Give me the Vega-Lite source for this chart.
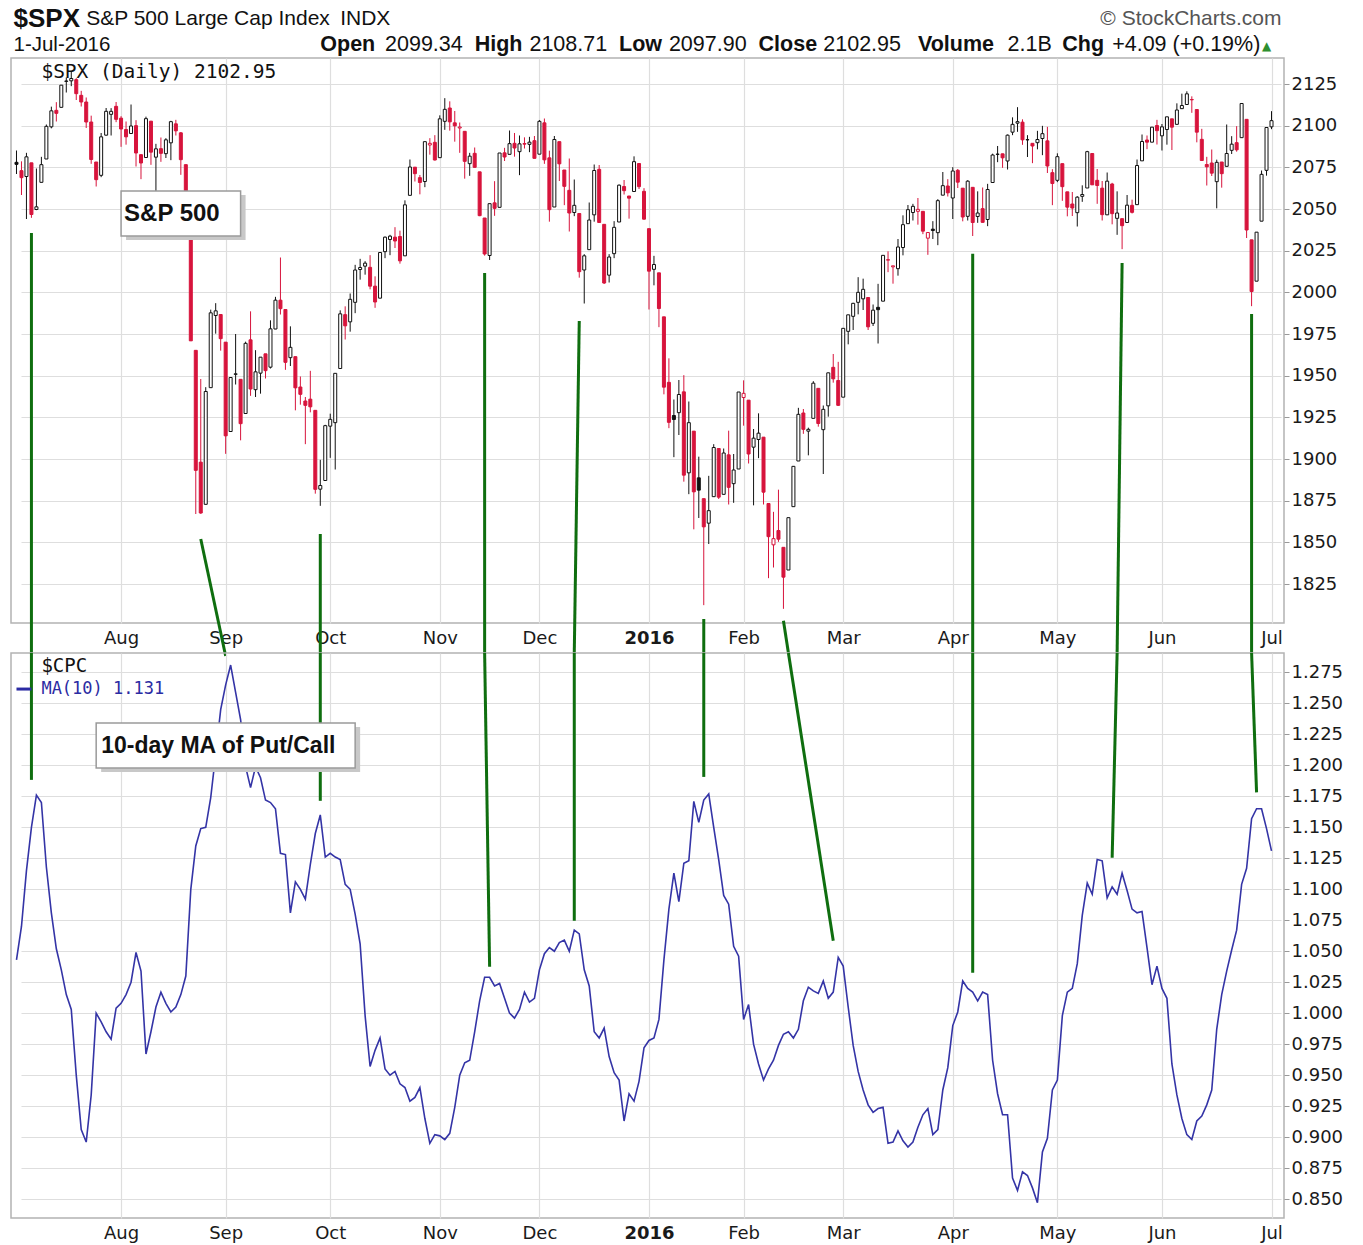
{
"$schema": "https://vega.github.io/schema/vega-lite/v6.json",
"padding": {"left": 10, "top": 5, "right": 0, "bottom": 0},
"background": "white",
"spacing": 30,
"bounds": "flush",
"datasets": {
"px": [
{"d":"2015-07-02","o":2078.0,"h":2085.1,"l":2071.0,"c":2076.8,"m":1.043},
{"d":"2015-07-06","o":2073.0,"h":2078.6,"l":2058.4,"c":2068.8,"m":1.070},
{"d":"2015-07-07","o":2069.5,"h":2083.7,"l":2044.0,"c":2081.3,"m":1.115},
{"d":"2015-07-08","o":2077.7,"h":2077.7,"l":2044.7,"c":2046.7,"m":1.150},
{"d":"2015-07-09","o":2049.7,"h":2074.3,"l":2049.3,"c":2051.3,"m":1.176},
{"d":"2015-07-10","o":2066.0,"h":2081.3,"l":2066.0,"c":2076.6,"m":1.170},
{"d":"2015-07-13","o":2080.0,"h":2100.7,"l":2080.0,"c":2099.6,"m":1.118},
{"d":"2015-07-14","o":2099.3,"h":2111.4,"l":2098.4,"c":2108.9,"m":1.081},
{"d":"2015-07-15","o":2109.2,"h":2114.1,"l":2102.5,"c":2107.4,"m":1.052},
{"d":"2015-07-16","o":2111.0,"h":2124.4,"l":2111.0,"c":2124.3,"m":1.035},
{"d":"2015-07-17","o":2126.8,"h":2128.9,"l":2119.9,"c":2126.6,"m":1.015},
{"d":"2015-07-20","o":2126.9,"h":2132.8,"l":2123.7,"c":2128.3,"m":1.003},
{"d":"2015-07-21","o":2127.6,"h":2128.5,"l":2115.4,"c":2119.2,"m":0.950},
{"d":"2015-07-22","o":2118.2,"h":2120.9,"l":2111.5,"c":2114.2,"m":0.906},
{"d":"2015-07-23","o":2114.2,"h":2116.9,"l":2098.6,"c":2102.2,"m":0.896},
{"d":"2015-07-24","o":2102.2,"h":2106.0,"l":2077.1,"c":2079.7,"m":0.934},
{"d":"2015-07-27","o":2078.2,"h":2078.2,"l":2063.5,"c":2067.6,"m":1.000},
{"d":"2015-07-28","o":2070.2,"h":2095.6,"l":2069.1,"c":2093.3,"m":0.993},
{"d":"2015-07-29","o":2094.3,"h":2110.6,"l":2094.1,"c":2108.6,"m":0.985},
{"d":"2015-07-30","o":2106.8,"h":2110.5,"l":2094.1,"c":2108.6,"m":0.979},
{"d":"2015-07-31","o":2111.6,"h":2114.2,"l":2102.1,"c":2103.8,"m":1.004},
{"d":"2015-08-03","o":2104.5,"h":2105.7,"l":2087.3,"c":2098.0,"m":1.008},
{"d":"2015-08-04","o":2097.7,"h":2102.5,"l":2088.6,"c":2093.3,"m":1.015},
{"d":"2015-08-05","o":2095.3,"h":2112.7,"l":2095.3,"c":2099.8,"m":1.025},
{"d":"2015-08-06","o":2100.0,"h":2103.3,"l":2075.5,"c":2083.6,"m":1.049},
{"d":"2015-08-07","o":2082.6,"h":2082.6,"l":2067.9,"c":2077.6,"m":1.034},
{"d":"2015-08-10","o":2080.9,"h":2105.4,"l":2080.9,"c":2104.2,"m":0.967},
{"d":"2015-08-11","o":2102.7,"h":2102.7,"l":2076.5,"c":2084.1,"m":0.985},
{"d":"2015-08-12","o":2081.1,"h":2089.1,"l":2052.1,"c":2086.1,"m":1.005},
{"d":"2015-08-13","o":2086.2,"h":2092.9,"l":2078.3,"c":2083.4,"m":1.017},
{"d":"2015-08-14","o":2083.2,"h":2092.5,"l":2080.6,"c":2091.5,"m":1.008},
{"d":"2015-08-17","o":2089.7,"h":2102.9,"l":2079.3,"c":2102.4,"m":1.001},
{"d":"2015-08-18","o":2101.1,"h":2103.5,"l":2094.1,"c":2096.9,"m":1.005},
{"d":"2015-08-19","o":2095.7,"h":2096.2,"l":2070.5,"c":2079.6,"m":1.015},
{"d":"2015-08-20","o":2076.6,"h":2076.6,"l":2035.7,"c":2035.7,"m":1.030},
{"d":"2015-08-21","o":2034.1,"h":2034.1,"l":1970.9,"c":1970.9,"m":1.100},
{"d":"2015-08-24","o":1965.2,"h":1965.2,"l":1867.0,"c":1893.2,"m":1.135},
{"d":"2015-08-25","o":1898.1,"h":1948.0,"l":1867.1,"c":1867.6,"m":1.149},
{"d":"2015-08-26","o":1872.8,"h":1943.1,"l":1872.8,"c":1940.5,"m":1.150},
{"d":"2015-08-27","o":1942.8,"h":1989.6,"l":1942.8,"c":1987.7,"m":1.174},
{"d":"2015-08-28","o":1986.1,"h":1993.5,"l":1975.2,"c":1988.9,"m":1.209},
{"d":"2015-08-31","o":1986.7,"h":1986.7,"l":1965.0,"c":1972.2,"m":1.245},
{"d":"2015-09-01","o":1970.1,"h":1970.1,"l":1903.1,"c":1913.9,"m":1.265},
{"d":"2015-09-02","o":1916.5,"h":1948.9,"l":1916.5,"c":1948.9,"m":1.281},
{"d":"2015-09-03","o":1950.8,"h":1975.0,"l":1944.7,"c":1951.1,"m":1.259},
{"d":"2015-09-04","o":1947.8,"h":1947.8,"l":1911.2,"c":1921.2,"m":1.237},
{"d":"2015-09-08","o":1927.3,"h":1970.4,"l":1927.3,"c":1969.4,"m":1.199},
{"d":"2015-09-09","o":1971.5,"h":1988.6,"l":1937.9,"c":1942.0,"m":1.182},
{"d":"2015-09-10","o":1941.6,"h":1965.3,"l":1937.2,"c":1952.3,"m":1.199},
{"d":"2015-09-11","o":1951.5,"h":1961.1,"l":1939.2,"c":1961.1,"m":1.190},
{"d":"2015-09-14","o":1963.1,"h":1963.1,"l":1948.3,"c":1953.0,"m":1.172},
{"d":"2015-09-15","o":1955.1,"h":1983.2,"l":1954.3,"c":1978.1,"m":1.170},
{"d":"2015-09-16","o":1978.0,"h":1997.3,"l":1977.9,"c":1995.3,"m":1.165},
{"d":"2015-09-17","o":1995.3,"h":2020.9,"l":1986.7,"c":1990.2,"m":1.129},
{"d":"2015-09-18","o":1989.7,"h":1989.7,"l":1953.5,"c":1958.0,"m":1.128},
{"d":"2015-09-21","o":1960.8,"h":1979.6,"l":1955.8,"c":1967.0,"m":1.081},
{"d":"2015-09-22","o":1961.4,"h":1961.4,"l":1929.2,"c":1942.7,"m":1.106},
{"d":"2015-09-23","o":1943.2,"h":1949.5,"l":1932.6,"c":1938.8,"m":1.100},
{"d":"2015-09-24","o":1934.8,"h":1937.2,"l":1908.9,"c":1932.2,"m":1.092},
{"d":"2015-09-25","o":1935.9,"h":1952.9,"l":1928.0,"c":1931.3,"m":1.120},
{"d":"2015-09-28","o":1929.2,"h":1929.2,"l":1879.2,"c":1881.8,"m":1.145},
{"d":"2015-09-29","o":1881.9,"h":1899.5,"l":1871.9,"c":1884.1,"m":1.160},
{"d":"2015-09-30","o":1887.1,"h":1920.5,"l":1887.1,"c":1920.0,"m":1.126},
{"d":"2015-10-01","o":1919.7,"h":1927.2,"l":1900.7,"c":1923.8,"m":1.129},
{"d":"2015-10-02","o":1921.8,"h":1951.4,"l":1893.7,"c":1951.4,"m":1.126},
{"d":"2015-10-05","o":1954.3,"h":1989.2,"l":1954.3,"c":1987.1,"m":1.124},
{"d":"2015-10-06","o":1986.6,"h":1991.6,"l":1971.7,"c":1979.9,"m":1.104},
{"d":"2015-10-07","o":1982.3,"h":1999.3,"l":1976.4,"c":1995.8,"m":1.100},
{"d":"2015-10-08","o":1994.0,"h":2016.5,"l":1987.5,"c":2013.4,"m":1.080},
{"d":"2015-10-09","o":2013.7,"h":2020.1,"l":2007.6,"c":2014.9,"m":1.056},
{"d":"2015-10-12","o":2015.7,"h":2018.7,"l":2010.6,"c":2017.5,"m":0.998},
{"d":"2015-10-13","o":2015.0,"h":2022.3,"l":2001.8,"c":2003.7,"m":0.957},
{"d":"2015-10-14","o":2003.7,"h":2009.6,"l":1990.7,"c":1994.2,"m":0.970},
{"d":"2015-10-15","o":1996.5,"h":2024.2,"l":1996.5,"c":2023.9,"m":0.980},
{"d":"2015-10-16","o":2024.4,"h":2033.5,"l":2020.5,"c":2033.1,"m":0.955},
{"d":"2015-10-19","o":2031.7,"h":2034.5,"l":2022.3,"c":2033.7,"m":0.950},
{"d":"2015-10-20","o":2033.1,"h":2039.1,"l":2026.6,"c":2030.8,"m":0.953},
{"d":"2015-10-21","o":2033.5,"h":2037.0,"l":2017.2,"c":2018.9,"m":0.943},
{"d":"2015-10-22","o":2021.9,"h":2055.2,"l":2021.9,"c":2052.5,"m":0.940},
{"d":"2015-10-23","o":2058.2,"h":2079.7,"l":2058.2,"c":2075.2,"m":0.929},
{"d":"2015-10-26","o":2075.1,"h":2075.1,"l":2066.5,"c":2071.2,"m":0.932},
{"d":"2015-10-27","o":2068.8,"h":2070.4,"l":2058.8,"c":2065.9,"m":0.940},
{"d":"2015-10-28","o":2066.5,"h":2090.4,"l":2063.1,"c":2090.4,"m":0.915},
{"d":"2015-10-29","o":2088.4,"h":2092.5,"l":2082.6,"c":2089.4,"m":0.895},
{"d":"2015-10-30","o":2090.0,"h":2094.3,"l":2079.1,"c":2079.4,"m":0.902},
{"d":"2015-11-02","o":2080.8,"h":2106.2,"l":2080.8,"c":2104.1,"m":0.901},
{"d":"2015-11-03","o":2102.6,"h":2116.5,"l":2097.5,"c":2109.8,"m":0.898},
{"d":"2015-11-04","o":2110.6,"h":2114.6,"l":2097.0,"c":2102.3,"m":0.903},
{"d":"2015-11-05","o":2101.7,"h":2108.8,"l":2090.4,"c":2099.9,"m":0.924},
{"d":"2015-11-06","o":2098.6,"h":2101.9,"l":2083.7,"c":2099.2,"m":0.950},
{"d":"2015-11-09","o":2096.6,"h":2096.6,"l":2068.2,"c":2078.6,"m":0.960},
{"d":"2015-11-10","o":2077.2,"h":2083.7,"l":2069.9,"c":2081.7,"m":0.962},
{"d":"2015-11-11","o":2083.4,"h":2086.9,"l":2074.9,"c":2075.0,"m":0.985},
{"d":"2015-11-12","o":2072.3,"h":2072.3,"l":2045.7,"c":2046.0,"m":1.010},
{"d":"2015-11-13","o":2044.6,"h":2044.6,"l":2022.0,"c":2023.0,"m":1.029},
{"d":"2015-11-16","o":2022.1,"h":2053.2,"l":2019.4,"c":2053.2,"m":1.029},
{"d":"2015-11-17","o":2053.7,"h":2066.7,"l":2045.9,"c":2050.4,"m":1.022},
{"d":"2015-11-18","o":2051.0,"h":2083.6,"l":2051.0,"c":2083.6,"m":1.024},
{"d":"2015-11-19","o":2083.7,"h":2086.7,"l":2078.8,"c":2081.2,"m":1.012},
{"d":"2015-11-20","o":2082.8,"h":2097.1,"l":2082.8,"c":2089.2,"m":1.000},
{"d":"2015-11-23","o":2089.4,"h":2095.6,"l":2081.4,"c":2086.6,"m":0.996},
{"d":"2015-11-24","o":2084.4,"h":2094.1,"l":2070.3,"c":2089.1,"m":1.003},
{"d":"2015-11-25","o":2089.3,"h":2093.0,"l":2086.3,"c":2088.9,"m":1.017},
{"d":"2015-11-27","o":2088.8,"h":2093.3,"l":2084.1,"c":2090.1,"m":1.009},
{"d":"2015-11-30","o":2091.0,"h":2093.8,"l":2080.4,"c":2080.4,"m":1.012},
{"d":"2015-12-01","o":2082.9,"h":2103.4,"l":2082.9,"c":2102.6,"m":1.035},
{"d":"2015-12-02","o":2101.7,"h":2104.3,"l":2077.1,"c":2079.5,"m":1.048},
{"d":"2015-12-03","o":2080.7,"h":2085.0,"l":2042.4,"c":2049.6,"m":1.053},
{"d":"2015-12-04","o":2051.2,"h":2093.8,"l":2051.2,"c":2091.7,"m":1.050},
{"d":"2015-12-07","o":2090.4,"h":2090.4,"l":2066.8,"c":2077.1,"m":1.057},
{"d":"2015-12-08","o":2073.4,"h":2073.4,"l":2052.3,"c":2063.6,"m":1.059},
{"d":"2015-12-09","o":2061.2,"h":2080.3,"l":2036.5,"c":2047.6,"m":1.050},
{"d":"2015-12-10","o":2047.9,"h":2067.7,"l":2045.7,"c":2052.2,"m":1.067},
{"d":"2015-12-11","o":2047.3,"h":2047.3,"l":2008.8,"c":2012.4,"m":1.064},
{"d":"2015-12-14","o":2013.4,"h":2022.9,"l":1993.3,"c":2021.9,"m":1.035},
{"d":"2015-12-15","o":2025.6,"h":2053.9,"l":2025.6,"c":2043.4,"m":1.022},
{"d":"2015-12-16","o":2046.5,"h":2076.7,"l":2042.4,"c":2073.1,"m":0.985},
{"d":"2015-12-17","o":2073.8,"h":2076.4,"l":2041.7,"c":2041.9,"m":0.980},
{"d":"2015-12-18","o":2040.8,"h":2040.8,"l":2005.0,"c":2005.6,"m":0.988},
{"d":"2015-12-21","o":2010.3,"h":2022.9,"l":2005.9,"c":2021.2,"m":0.965},
{"d":"2015-12-22","o":2023.2,"h":2042.7,"l":2020.5,"c":2039.0,"m":0.952},
{"d":"2015-12-23","o":2042.2,"h":2064.7,"l":2042.2,"c":2064.3,"m":0.946},
{"d":"2015-12-24","o":2063.5,"h":2067.4,"l":2058.7,"c":2061.0,"m":0.913},
{"d":"2015-12-28","o":2057.8,"h":2057.8,"l":2044.2,"c":2056.5,"m":0.935},
{"d":"2015-12-29","o":2060.5,"h":2081.6,"l":2060.5,"c":2078.4,"m":0.929},
{"d":"2015-12-30","o":2077.3,"h":2077.3,"l":2062.0,"c":2063.4,"m":0.945},
{"d":"2015-12-31","o":2060.6,"h":2062.5,"l":2043.6,"c":2043.9,"m":0.972},
{"d":"2016-01-04","o":2038.2,"h":2038.2,"l":1989.7,"c":2012.7,"m":0.978},
{"d":"2016-01-05","o":2013.8,"h":2021.9,"l":2004.2,"c":2016.7,"m":0.980},
{"d":"2016-01-06","o":2011.7,"h":2011.7,"l":1979.1,"c":1990.3,"m":0.995},
{"d":"2016-01-07","o":1985.3,"h":1985.3,"l":1938.8,"c":1943.1,"m":1.043},
{"d":"2016-01-08","o":1946.0,"h":1960.4,"l":1918.5,"c":1922.0,"m":1.084},
{"d":"2016-01-11","o":1926.1,"h":1935.7,"l":1901.1,"c":1923.7,"m":1.113},
{"d":"2016-01-12","o":1927.8,"h":1947.4,"l":1914.4,"c":1938.7,"m":1.090},
{"d":"2016-01-13","o":1940.3,"h":1950.3,"l":1886.4,"c":1890.3,"m":1.121},
{"d":"2016-01-14","o":1891.7,"h":1934.5,"l":1878.9,"c":1921.8,"m":1.123},
{"d":"2016-01-15","o":1916.7,"h":1916.7,"l":1857.8,"c":1880.3,"m":1.171},
{"d":"2016-01-19","o":1888.7,"h":1901.4,"l":1864.6,"c":1881.3,"m":1.154},
{"d":"2016-01-20","o":1876.2,"h":1876.2,"l":1812.3,"c":1859.3,"m":1.172},
{"d":"2016-01-21","o":1861.5,"h":1889.9,"l":1849.0,"c":1869.0,"m":1.177},
{"d":"2016-01-22","o":1877.4,"h":1908.9,"l":1877.4,"c":1906.9,"m":1.150},
{"d":"2016-01-25","o":1906.3,"h":1906.3,"l":1876.0,"c":1877.1,"m":1.124},
{"d":"2016-01-26","o":1878.8,"h":1906.3,"l":1878.8,"c":1903.6,"m":1.095},
{"d":"2016-01-27","o":1902.5,"h":1917.0,"l":1872.7,"c":1883.0,"m":1.088},
{"d":"2016-01-28","o":1885.2,"h":1903.0,"l":1873.7,"c":1893.4,"m":1.054},
{"d":"2016-01-29","o":1894.0,"h":1940.2,"l":1894.0,"c":1940.2,"m":1.046},
{"d":"2016-02-01","o":1936.9,"h":1947.2,"l":1920.0,"c":1939.4,"m":0.995},
{"d":"2016-02-02","o":1935.3,"h":1935.3,"l":1897.3,"c":1903.0,"m":1.007},
{"d":"2016-02-03","o":1907.1,"h":1918.0,"l":1872.2,"c":1912.5,"m":0.975},
{"d":"2016-02-04","o":1911.7,"h":1927.4,"l":1900.5,"c":1915.5,"m":0.959},
{"d":"2016-02-05","o":1913.1,"h":1913.1,"l":1872.7,"c":1880.1,"m":0.946},
{"d":"2016-02-08","o":1873.3,"h":1873.3,"l":1828.5,"c":1853.4,"m":0.955},
{"d":"2016-02-09","o":1848.5,"h":1868.3,"l":1834.9,"c":1852.2,"m":0.962},
{"d":"2016-02-10","o":1857.1,"h":1881.6,"l":1850.3,"c":1851.9,"m":0.974},
{"d":"2016-02-11","o":1847.0,"h":1847.0,"l":1810.1,"c":1829.1,"m":0.983},
{"d":"2016-02-12","o":1833.4,"h":1864.8,"l":1833.4,"c":1864.8,"m":0.985},
{"d":"2016-02-16","o":1871.4,"h":1895.8,"l":1871.4,"c":1895.6,"m":0.980},
{"d":"2016-02-17","o":1898.8,"h":1930.7,"l":1898.8,"c":1926.8,"m":0.987},
{"d":"2016-02-18","o":1927.6,"h":1930.0,"l":1915.1,"c":1917.8,"m":1.010},
{"d":"2016-02-19","o":1916.7,"h":1918.8,"l":1902.2,"c":1917.8,"m":1.021},
{"d":"2016-02-22","o":1924.4,"h":1946.7,"l":1924.4,"c":1945.5,"m":1.018},
{"d":"2016-02-23","o":1942.4,"h":1942.4,"l":1919.4,"c":1921.3,"m":1.016},
{"d":"2016-02-24","o":1917.6,"h":1932.1,"l":1891.0,"c":1929.8,"m":1.026},
{"d":"2016-02-25","o":1931.9,"h":1951.8,"l":1925.4,"c":1951.7,"m":1.012},
{"d":"2016-02-26","o":1955.0,"h":1963.0,"l":1945.8,"c":1948.1,"m":1.017},
{"d":"2016-02-29","o":1947.1,"h":1958.3,"l":1931.8,"c":1932.2,"m":1.045},
{"d":"2016-03-01","o":1937.1,"h":1978.4,"l":1937.1,"c":1978.4,"m":1.038},
{"d":"2016-03-02","o":1976.6,"h":1986.5,"l":1968.8,"c":1986.5,"m":1.005},
{"d":"2016-03-03","o":1985.6,"h":1993.7,"l":1977.4,"c":1993.4,"m":0.974},
{"d":"2016-03-04","o":1994.0,"h":2009.1,"l":1986.8,"c":2000.0,"m":0.953},
{"d":"2016-03-07","o":1996.1,"h":2008.2,"l":1989.4,"c":2001.8,"m":0.938},
{"d":"2016-03-08","o":1996.9,"h":1996.9,"l":1977.4,"c":1979.3,"m":0.926},
{"d":"2016-03-09","o":1981.4,"h":1992.7,"l":1979.8,"c":1989.3,"m":0.920},
{"d":"2016-03-10","o":1991.0,"h":2005.1,"l":1969.3,"c":1989.6,"m":0.923},
{"d":"2016-03-11","o":1994.7,"h":2022.4,"l":1994.7,"c":2022.2,"m":0.924},
{"d":"2016-03-14","o":2019.3,"h":2024.6,"l":2012.1,"c":2019.6,"m":0.895},
{"d":"2016-03-15","o":2015.3,"h":2015.9,"l":2005.2,"c":2015.9,"m":0.896},
{"d":"2016-03-16","o":2014.2,"h":2032.0,"l":2010.0,"c":2027.2,"m":0.905},
{"d":"2016-03-17","o":2026.9,"h":2046.2,"l":2022.2,"c":2040.6,"m":0.897},
{"d":"2016-03-18","o":2041.2,"h":2052.4,"l":2041.2,"c":2049.6,"m":0.892},
{"d":"2016-03-21","o":2047.9,"h":2053.1,"l":2043.1,"c":2051.6,"m":0.896},
{"d":"2016-03-22","o":2048.6,"h":2056.6,"l":2040.6,"c":2049.8,"m":0.908},
{"d":"2016-03-23","o":2048.6,"h":2048.6,"l":2034.9,"c":2036.7,"m":0.918},
{"d":"2016-03-24","o":2032.5,"h":2036.0,"l":2022.5,"c":2035.9,"m":0.923},
{"d":"2016-03-28","o":2037.9,"h":2042.7,"l":2032.0,"c":2037.1,"m":0.902},
{"d":"2016-03-29","o":2035.8,"h":2055.9,"l":2028.3,"c":2055.0,"m":0.906},
{"d":"2016-03-30","o":2058.3,"h":2072.2,"l":2058.3,"c":2064.0,"m":0.938},
{"d":"2016-03-31","o":2063.8,"h":2067.9,"l":2057.5,"c":2059.7,"m":0.956},
{"d":"2016-04-01","o":2056.6,"h":2075.1,"l":2044.0,"c":2072.8,"m":0.990},
{"d":"2016-04-04","o":2073.2,"h":2074.0,"l":2062.6,"c":2066.1,"m":1.001},
{"d":"2016-04-05","o":2062.5,"h":2062.5,"l":2042.6,"c":2045.2,"m":1.026},
{"d":"2016-04-06","o":2045.6,"h":2067.3,"l":2043.1,"c":2066.7,"m":1.020},
{"d":"2016-04-07","o":2063.0,"h":2063.0,"l":2033.8,"c":2041.9,"m":1.017},
{"d":"2016-04-08","o":2045.5,"h":2060.6,"l":2041.7,"c":2047.6,"m":1.010},
{"d":"2016-04-11","o":2050.2,"h":2062.9,"l":2041.9,"c":2042.0,"m":1.017},
{"d":"2016-04-12","o":2043.7,"h":2065.1,"l":2039.7,"c":2061.7,"m":1.015},
{"d":"2016-04-13","o":2065.9,"h":2083.2,"l":2065.9,"c":2082.4,"m":0.962},
{"d":"2016-04-14","o":2082.9,"h":2087.8,"l":2078.1,"c":2082.8,"m":0.935},
{"d":"2016-04-15","o":2083.1,"h":2083.2,"l":2074.7,"c":2080.7,"m":0.918},
{"d":"2016-04-18","o":2078.8,"h":2094.7,"l":2073.7,"c":2094.3,"m":0.918},
{"d":"2016-04-19","o":2096.1,"h":2105.0,"l":2094.3,"c":2100.8,"m":0.867},
{"d":"2016-04-20","o":2101.5,"h":2111.1,"l":2096.3,"c":2102.4,"m":0.857},
{"d":"2016-04-21","o":2102.1,"h":2103.8,"l":2088.5,"c":2091.5,"m":0.872},
{"d":"2016-04-22","o":2091.5,"h":2094.3,"l":2081.2,"c":2091.6,"m":0.869},
{"d":"2016-04-25","o":2089.4,"h":2089.4,"l":2077.5,"c":2087.8,"m":0.859},
{"d":"2016-04-26","o":2089.8,"h":2096.9,"l":2085.8,"c":2091.7,"m":0.847},
{"d":"2016-04-27","o":2092.3,"h":2099.9,"l":2082.3,"c":2095.2,"m":0.888},
{"d":"2016-04-28","o":2090.9,"h":2099.3,"l":2071.6,"c":2075.8,"m":0.899},
{"d":"2016-04-29","o":2071.8,"h":2073.9,"l":2052.3,"c":2065.3,"m":0.938},
{"d":"2016-05-02","o":2067.2,"h":2083.4,"l":2066.1,"c":2081.4,"m":0.946},
{"d":"2016-05-03","o":2077.2,"h":2077.2,"l":2054.9,"c":2063.4,"m":0.998},
{"d":"2016-05-04","o":2060.3,"h":2060.3,"l":2045.6,"c":2051.1,"m":1.017},
{"d":"2016-05-05","o":2053.0,"h":2060.2,"l":2045.8,"c":2050.6,"m":1.020},
{"d":"2016-05-06","o":2047.8,"h":2057.7,"l":2039.5,"c":2057.1,"m":1.040},
{"d":"2016-05-09","o":2057.6,"h":2064.2,"l":2054.3,"c":2058.7,"m":1.079},
{"d":"2016-05-10","o":2062.6,"h":2084.9,"l":2062.6,"c":2084.4,"m":1.105},
{"d":"2016-05-11","o":2083.3,"h":2083.3,"l":2064.5,"c":2064.5,"m":1.096},
{"d":"2016-05-12","o":2067.2,"h":2074.0,"l":2053.1,"c":2064.1,"m":1.124},
{"d":"2016-05-13","o":2062.5,"h":2066.8,"l":2043.1,"c":2046.6,"m":1.123},
{"d":"2016-05-16","o":2046.5,"h":2071.9,"l":2046.5,"c":2066.7,"m":1.093},
{"d":"2016-05-17","o":2065.0,"h":2065.7,"l":2040.8,"c":2047.2,"m":1.102},
{"d":"2016-05-18","o":2044.4,"h":2060.6,"l":2034.5,"c":2047.6,"m":1.096},
{"d":"2016-05-19","o":2044.2,"h":2044.2,"l":2025.9,"c":2040.0,"m":1.113},
{"d":"2016-05-20","o":2041.9,"h":2058.4,"l":2041.9,"c":2052.3,"m":1.099},
{"d":"2016-05-23","o":2052.2,"h":2055.6,"l":2047.3,"c":2048.0,"m":1.084},
{"d":"2016-05-24","o":2052.6,"h":2079.7,"l":2052.6,"c":2076.1,"m":1.081},
{"d":"2016-05-25","o":2078.9,"h":2094.7,"l":2078.9,"c":2090.5,"m":1.082},
{"d":"2016-05-26","o":2091.4,"h":2094.1,"l":2085.9,"c":2090.1,"m":1.053},
{"d":"2016-05-27","o":2090.1,"h":2099.1,"l":2090.1,"c":2099.1,"m":1.023},
{"d":"2016-05-31","o":2100.1,"h":2103.5,"l":2088.7,"c":2097.0,"m":1.038},
{"d":"2016-06-01","o":2093.9,"h":2101.0,"l":2085.1,"c":2099.3,"m":1.020},
{"d":"2016-06-02","o":2097.7,"h":2105.3,"l":2088.6,"c":2105.3,"m":1.012},
{"d":"2016-06-03","o":2104.1,"h":2104.1,"l":2085.4,"c":2099.1,"m":0.959},
{"d":"2016-06-06","o":2100.8,"h":2113.4,"l":2100.8,"c":2109.4,"m":0.934},
{"d":"2016-06-07","o":2110.2,"h":2119.2,"l":2110.2,"c":2112.1,"m":0.915},
{"d":"2016-06-08","o":2112.7,"h":2120.6,"l":2112.7,"c":2119.1,"m":0.902},
{"d":"2016-06-09","o":2115.7,"h":2117.6,"l":2107.7,"c":2115.5,"m":0.898},
{"d":"2016-06-10","o":2109.7,"h":2109.7,"l":2090.0,"c":2096.1,"m":0.913},
{"d":"2016-06-13","o":2091.8,"h":2098.1,"l":2079.1,"c":2079.1,"m":0.917},
{"d":"2016-06-14","o":2076.7,"h":2081.3,"l":2064.1,"c":2075.3,"m":0.926},
{"d":"2016-06-15","o":2077.6,"h":2085.7,"l":2069.8,"c":2071.5,"m":0.938},
{"d":"2016-06-16","o":2066.4,"h":2079.6,"l":2050.4,"c":2078.0,"m":0.987},
{"d":"2016-06-17","o":2078.2,"h":2078.2,"l":2062.8,"c":2071.2,"m":1.015},
{"d":"2016-06-20","o":2075.6,"h":2100.7,"l":2075.6,"c":2083.3,"m":1.034},
{"d":"2016-06-21","o":2085.2,"h":2093.7,"l":2083.0,"c":2088.9,"m":1.051},
{"d":"2016-06-22","o":2089.8,"h":2099.7,"l":2084.4,"c":2085.5,"m":1.067},
{"d":"2016-06-23","o":2092.8,"h":2113.3,"l":2092.8,"c":2113.3,"m":1.104},
{"d":"2016-06-24","o":2103.8,"h":2103.8,"l":2032.6,"c":2037.4,"m":1.117},
{"d":"2016-06-27","o":2031.5,"h":2031.5,"l":1991.7,"c":2000.5,"m":1.157},
{"d":"2016-06-28","o":2006.7,"h":2036.1,"l":2006.7,"c":2036.1,"m":1.165},
{"d":"2016-06-29","o":2042.7,"h":2073.1,"l":2042.7,"c":2070.8,"m":1.165},
{"d":"2016-06-30","o":2073.2,"h":2098.9,"l":2070.0,"c":2098.9,"m":1.149},
{"d":"2016-07-01","o":2099.3,"h":2108.7,"l":2097.9,"c":2103.0,"m":1.131}
]
},
"vconcat": [
{
"width": 1273, "height": 565,
"layer": [
{"data": {"name": "px"},
 "transform": [{"window": [{"op": "lag", "field": "c", "as": "pc"}], "sort": [{"field": "d", "order": "ascending"}]}],
 "mark": {"type": "rule", "strokeWidth": 1},
 "encoding": {
  "x": {"field": "d", "type": "ordinal", "title": null, "scale": {"type": "point", "range": [3, 1263]},
        "axis": {"values": ["2015-08-03","2015-09-01","2015-10-01","2015-11-02","2015-12-01","2016-01-04","2016-02-01","2016-03-01","2016-04-01","2016-05-02","2016-06-01","2016-07-01"],
                 "labelExpr": "slice(datum.value,5,7)=='01' ? slice(datum.value,0,4) : utcFormat(toDate(datum.value),'%b')",
                 "labelFontWeight": {"condition": {"test": "slice(datum.value,5,7)=='01'", "value": "bold"}, "value": "normal"},
                 "grid": true, "ticks": false, "tickSize": 0, "domain": false, "labelPadding": 6, "labelAngle": 0, "labelOverlap": false, "title": null}},
  "y": {"field": "l", "type": "quantitative", "title": null, "scale": {"domain": [1801.6, 2140.6], "nice": false, "zero": false},
        "axis": {"orient": "right", "values": [1825,1850,1875,1900,1925,1950,1975,2000,2025,2050,2075,2100,2125], "tickCount": 30, "format": "d", "grid": true, "domain": false, "tickSize": 5, "labelPadding": 2, "labelOverlap": false, "title": null}},
  "y2": {"field": "h"},
  "color": {"condition": {"test": "datum.pc == null || datum.c >= datum.pc", "value": "#111111"}, "value": "#d7143c"}
 }},
{"data": {"name": "px"},
 "transform": [{"window": [{"op": "lag", "field": "c", "as": "pc"}], "sort": [{"field": "d", "order": "ascending"}]}],
 "mark": {"type": "bar", "size": 3, "strokeWidth": 1},
 "encoding": {
  "x": {"field": "d", "type": "ordinal", "title": null},
  "y": {"field": "o", "type": "quantitative", "title": null},
  "y2": {"field": "c"},
  "stroke": {"condition": {"test": "datum.pc == null || datum.c >= datum.pc", "value": "#111111"}, "value": "#d7143c"},
  "fill": {"condition": [{"test": "datum.c > datum.o", "value": "#ffffff"}, {"test": "datum.pc == null || datum.c >= datum.pc", "value": "#111111"}], "value": "#d7143c"}
 }},
{"data": {"values": [
  {"d1":"2015-07-08","p1":2035.6,"d2":"2015-07-08","p2":1783.6},
  {"d1":"2015-08-25","p1":1852.0,"d2":"2015-09-01","p2":1781.8},
  {"d1":"2015-09-29","p1":1855.0,"d2":"2015-09-29","p2":1783.6},
  {"d1":"2015-11-13","p1":2011.6,"d2":"2015-11-13","p2":1783.6},
  {"d1":"2015-12-11","p1":1982.8,"d2":"2015-12-10","p2":1783.6},
  {"d1":"2016-01-20","p1":1804.0,"d2":"2016-01-20","p2":1783.6},
  {"d1":"2016-02-11","p1":1803.0,"d2":"2016-02-12","p2":1783.6},
  {"d1":"2016-04-07","p1":2023.2,"d2":"2016-04-07","p2":1783.6},
  {"d1":"2016-05-19","p1":2017.6,"d2":"2016-05-18","p2":1783.6},
  {"d1":"2016-06-27","p1":1987.0,"d2":"2016-06-27","p2":1783.6}
 ]},
 "mark": {"type": "rule", "color": "#0f6e0f", "strokeWidth": 3},
 "encoding": {
  "x": {"field": "d1", "type": "ordinal", "title": null},
  "x2": {"field": "d2"},
  "y": {"field": "p1", "type": "quantitative", "title": null},
  "y2": {"field": "p2"}
 }},
{"data": {"values": [{"d1":"2015-08-04","d2":"2015-09-08","y1":2058.4,"y2":2031.4}]},
 "mark": {"type": "rect", "fill": "#c8c8c8"},
 "encoding": {"x": {"field": "d1", "type": "ordinal", "title": null}, "x2": {"field": "d2"}, "y": {"field": "y1", "type": "quantitative", "title": null}, "y2": {"field": "y2"}}},
{"data": {"values": [{"d1":"2015-08-03","d2":"2015-09-04","y1":2060.8,"y2":2033.8}]},
 "mark": {"type": "rect", "fill": "#ffffff", "stroke": "#9a9a9a", "strokeWidth": 1.5},
 "encoding": {"x": {"field": "d1", "type": "ordinal", "title": null}, "x2": {"field": "d2"}, "y": {"field": "y1", "type": "quantitative", "title": null}, "y2": {"field": "y2"}}},
{"data": {"values": [{"d":"2015-08-03","t":"S&P 500"}]},
 "mark": {"type": "text", "align": "left", "baseline": "middle", "dx": 3, "font": "Liberation Sans", "fontSize": 24, "fontWeight": "bold", "color": "#111111"},
 "encoding": {"x": {"field": "d", "type": "ordinal", "title": null}, "y": {"datum": 2047.0}, "text": {"field": "t"}}},
{"data": {"values": [{"d":"2015-07-10","t":"$SPX (Daily) 2102.95"}]},
 "mark": {"type": "text", "align": "left", "baseline": "middle", "font": "DejaVu Sans Mono", "fontSize": 19.5, "color": "#111111"},
 "encoding": {"x": {"field": "d", "type": "ordinal", "title": null}, "y": {"datum": 2132.2}, "text": {"field": "t"}}},
{"data": {"values": [{"d":"2015-07-02","t":"$SPX"}]},
 "mark": {"type": "text", "align": "left", "baseline": "middle", "dx": -3, "font": "Liberation Sans", "fontSize": 26, "fontWeight": "bold", "color": "#111111"},
 "encoding": {"x": {"field": "d", "type": "ordinal", "title": null}, "y": {"datum": 2164.0}, "text": {"field": "t"}}},
{"data": {"values": [{"d":"2015-07-23","t":"S&P 500 Large Cap Index"},{"d":"2015-10-05","t":"INDX"}]},
 "mark": {"type": "text", "align": "left", "baseline": "middle", "font": "Liberation Sans", "fontSize": 21, "color": "#111111"},
 "encoding": {"x": {"field": "d", "type": "ordinal", "title": null}, "y": {"datum": 2164.0}, "text": {"field": "t"}}},
{"data": {"values": [{"d":"2016-07-01","t":"© StockCharts.com"}]},
 "mark": {"type": "text", "align": "right", "baseline": "middle", "dx": 10, "font": "Liberation Sans", "fontSize": 21, "color": "#555555"},
 "encoding": {"x": {"field": "d", "type": "ordinal", "title": null}, "y": {"datum": 2164.0}, "text": {"field": "t"}}},
{"data": {"values": [{"d":"2015-07-02","t":"1-Jul-2016"}]},
 "mark": {"type": "text", "align": "left", "baseline": "middle", "dx": -3, "font": "Liberation Sans", "fontSize": 20.5, "color": "#111111"},
 "encoding": {"x": {"field": "d", "type": "ordinal", "title": null}, "y": {"datum": 2148.4}, "text": {"field": "t"}}},
{"data": {"values": [{"d":"2015-09-29","t":"Open"},{"d":"2015-11-11","t":"High"},{"d":"2015-12-23","t":"Low"},{"d":"2016-02-04","t":"Close"},{"d":"2016-03-22","t":"Volume"},{"d":"2016-05-03","t":"Chg"}]},
 "mark": {"type": "text", "align": "left", "baseline": "middle", "font": "Liberation Sans", "fontSize": 21.5, "fontWeight": "bold", "color": "#111111"},
 "encoding": {"x": {"field": "d", "type": "ordinal", "title": null}, "y": {"datum": 2148.4}, "text": {"field": "t"}}},
{"data": {"values": [{"d":"2015-10-16","t":"2099.34"},{"d":"2015-11-27","t":"2108.71"},{"d":"2016-01-08","t":"2097.90"},{"d":"2016-02-24","t":"2102.95"},{"d":"2016-04-18","t":"2.1B"},{"d":"2016-05-17","t":"+4.09 (+0.19%)"}]},
 "mark": {"type": "text", "align": "left", "baseline": "middle", "font": "Liberation Sans", "fontSize": 21.5, "color": "#111111"},
 "encoding": {"x": {"field": "d", "type": "ordinal", "title": null}, "y": {"datum": 2148.4}, "text": {"field": "t"}}},
{"data": {"values": [{"d":"2016-06-30","t":"▲"}]},
 "mark": {"type": "text", "align": "center", "baseline": "middle", "font": "DejaVu Sans", "fontSize": 12, "color": "#2f8f2f"},
 "encoding": {"x": {"field": "d", "type": "ordinal", "title": null}, "y": {"datum": 2147.6}, "text": {"field": "t"}}}
]
},
{
"width": 1273, "height": 565,
"layer": [
{"data": {"name": "px"},
 "mark": {"type": "line", "color": "#3434a6", "strokeWidth": 1.6},
 "encoding": {
  "x": {"field": "d", "type": "ordinal", "title": null, "scale": {"type": "point", "range": [3, 1263]},
        "axis": {"values": ["2015-08-03","2015-09-01","2015-10-01","2015-11-02","2015-12-01","2016-01-04","2016-02-01","2016-03-01","2016-04-01","2016-05-02","2016-06-01","2016-07-01"],
                 "labelExpr": "slice(datum.value,5,7)=='01' ? slice(datum.value,0,4) : utcFormat(toDate(datum.value),'%b')",
                 "labelFontWeight": {"condition": {"test": "slice(datum.value,5,7)=='01'", "value": "bold"}, "value": "normal"},
                 "grid": true, "ticks": false, "tickSize": 0, "domain": false, "labelPadding": 6, "labelAngle": 0, "labelOverlap": false, "title": null}},
  "y": {"field": "m", "type": "quantitative", "title": null, "scale": {"domain": [0.8347, 1.2907], "nice": false, "zero": false},
        "axis": {"orient": "right", "values": [0.85,0.875,0.9,0.925,0.95,0.975,1,1.025,1.05,1.075,1.1,1.125,1.15,1.175,1.2,1.225,1.25,1.275], "tickCount": 30, "format": ".3f", "grid": true, "domain": false, "tickSize": 5, "labelPadding": 2, "labelOverlap": false, "title": null}}
 }},
{"data": {"values": [
  {"d1":"2015-07-08","v1":1.2907,"d2":"2015-07-08","v2":1.1883},
  {"d1":"2015-09-29","v1":1.2907,"d2":"2015-09-29","v2":1.1714},
  {"d1":"2015-11-13","v1":1.2907,"d2":"2015-11-16","v2":1.0375},
  {"d1":"2015-12-10","v1":1.2907,"d2":"2015-12-10","v2":1.0746},
  {"d1":"2016-01-20","v1":1.2907,"d2":"2016-01-20","v2":1.1907},
  {"d1":"2016-02-12","v1":1.2907,"d2":"2016-02-26","v2":1.0585},
  {"d1":"2016-04-07","v1":1.2907,"d2":"2016-04-07","v2":1.0327},
  {"d1":"2016-05-18","v1":1.2907,"d2":"2016-05-17","v2":1.1254},
  {"d1":"2016-06-27","v1":1.2907,"d2":"2016-06-28","v2":1.1782}
 ]},
 "mark": {"type": "rule", "color": "#0f6e0f", "strokeWidth": 3},
 "encoding": {
  "x": {"field": "d1", "type": "ordinal", "title": null},
  "x2": {"field": "d2"},
  "y": {"field": "v1", "type": "quantitative", "title": null},
  "y2": {"field": "v2"}
 }},
{"data": {"values": [{"d1":"2015-07-28","d2":"2015-10-09","y1":1.2310,"y2":1.1947}]},
 "mark": {"type": "rect", "fill": "#c8c8c8"},
 "encoding": {"x": {"field": "d1", "type": "ordinal", "title": null}, "x2": {"field": "d2"}, "y": {"field": "y1", "type": "quantitative", "title": null}, "y2": {"field": "y2"}}},
{"data": {"values": [{"d1":"2015-07-27","d2":"2015-10-08","y1":1.2342,"y2":1.1979}]},
 "mark": {"type": "rect", "fill": "#ffffff", "stroke": "#9a9a9a", "strokeWidth": 1.5},
 "encoding": {"x": {"field": "d1", "type": "ordinal", "title": null}, "x2": {"field": "d2"}, "y": {"field": "y1", "type": "quantitative", "title": null}, "y2": {"field": "y2"}}},
{"data": {"values": [{"d":"2015-07-28","t":"10-day MA of Put/Call"}]},
 "mark": {"type": "text", "align": "left", "baseline": "middle", "font": "Liberation Sans", "fontSize": 23, "fontWeight": "bold", "color": "#111111"},
 "encoding": {"x": {"field": "d", "type": "ordinal", "title": null}, "y": {"datum": 1.2156}, "text": {"field": "t"}}},
{"data": {"values": [{"d":"2015-07-10","t":"$CPC"}]},
 "mark": {"type": "text", "align": "left", "baseline": "middle", "font": "DejaVu Sans Mono", "fontSize": 19, "color": "#111111"},
 "encoding": {"x": {"field": "d", "type": "ordinal", "title": null}, "y": {"datum": 1.2802}, "text": {"field": "t"}}},
{"data": {"values": [{"d":"2015-07-10","t":"MA(10) 1.131"}]},
 "mark": {"type": "text", "align": "left", "baseline": "middle", "font": "DejaVu Sans Mono", "fontSize": 17, "color": "#2b2ba3"},
 "encoding": {"x": {"field": "d", "type": "ordinal", "title": null}, "y": {"datum": 1.2616}, "text": {"field": "t"}}},
{"data": {"values": [{"d1":"2015-07-02","d2":"2015-07-08","v":1.2616}]},
 "mark": {"type": "rule", "color": "#2b2ba3", "strokeWidth": 3},
 "encoding": {"x": {"field": "d1", "type": "ordinal", "title": null}, "x2": {"field": "d2"}, "y": {"field": "v", "type": "quantitative", "title": null}}}
]
}
],
"config": {
 "view": {"stroke": "#b3b3b3", "strokeWidth": 1.5},
 "axis": {"labelFont": "DejaVu Sans", "labelFontSize": 18, "labelColor": "#1a1a1a", "gridColor": "#dedede", "gridWidth": 1.2, "tickColor": "#999999", "domain": false}
}
}
